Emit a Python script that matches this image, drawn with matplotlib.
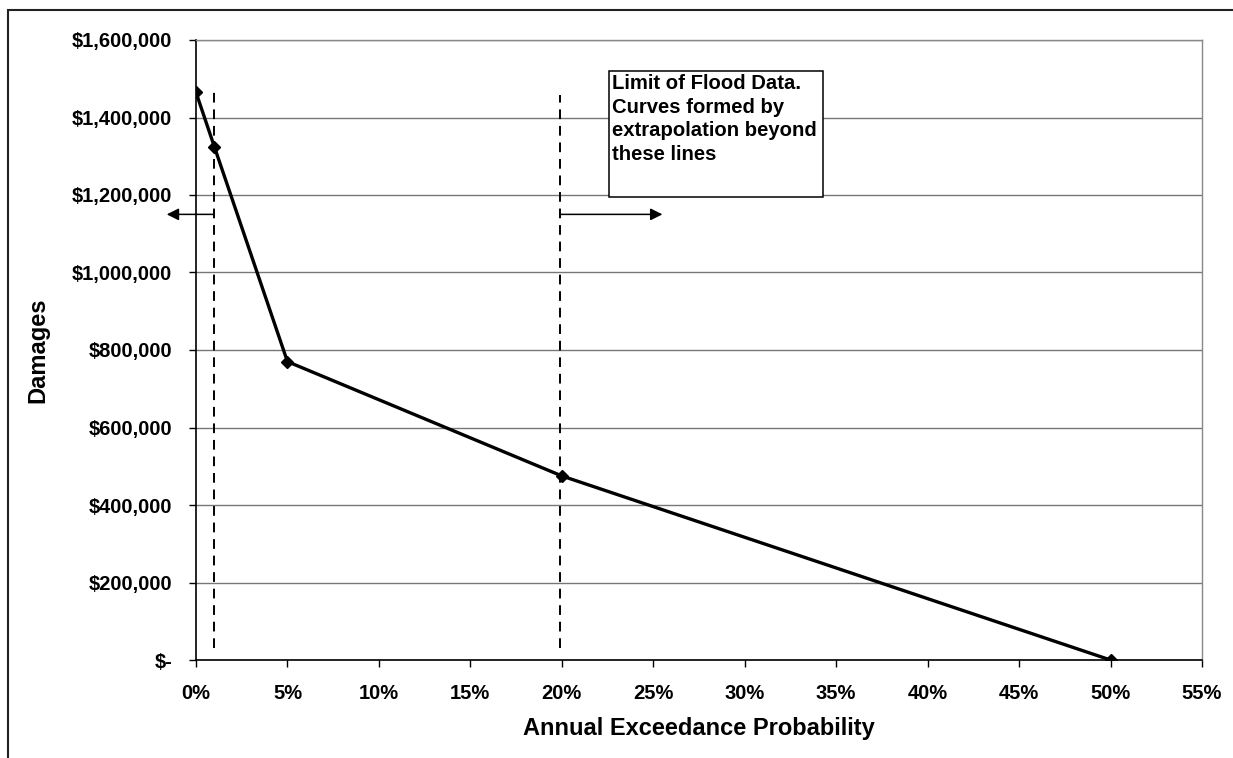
import matplotlib.pyplot as plt
import matplotlib.ticker as ticker
from matplotlib.patches import Rectangle

plt.rcParams['font.family'] = ['Liberation Sans', 'DejaVu Sans']
plt.rcParams['font.weight'] = 'bold'

# damage-probability curve
aep = [0.0, 1.0, 5.0, 20.0, 50.0]          # annual exceedance probability, %
damages = [1465000, 1325000, 770000, 475000, 0]

# limits of the flood data
limit_lines = [1.0, 19.9]
limit_top = [1480000, 1458000]
limit_bottom = 30000
arrow_y = 1150000
arrow_ends = [-1.6, 25.5]

note = "Limit of Flood Data.\nCurves formed by\nextrapolation beyond\nthese lines"

fig = plt.figure(figsize=(12.33, 7.58), dpi=100)
ax = fig.add_axes([196 / 1233, 1 - 660 / 758, 1006 / 1233, 620 / 758])

# outer chart border (top and left only)
fig.patches.append(Rectangle((8 / 1233, -0.05), 1.2, 1 - 10 / 758 + 0.05,
                             transform=fig.transFigure, fill=False,
                             edgecolor='#222222', linewidth=1.5))

ax.plot(aep, damages, color='black', linewidth=2.4, marker='D',
        markersize=6.5, zorder=5)

for x, top in zip(limit_lines, limit_top):
    ax.plot([x, x], [limit_bottom, top], color='black', linewidth=1.4,
            dashes=(5, 3.5), zorder=4)

for x0, x1 in zip(limit_lines, arrow_ends):
    ax.annotate('', xy=(x1, arrow_y), xytext=(x0, arrow_y),
                arrowprops=dict(arrowstyle='-|>', color='black', lw=1.1,
                                mutation_scale=18, shrinkA=0, shrinkB=0),
                annotation_clip=False, zorder=6)

# note box
ax.add_patch(Rectangle((22.6, 1195000), 11.7, 325000, facecolor='white',
                       edgecolor='black', linewidth=1.1, zorder=7))
ax.text(22.72, 1512000, note, fontsize=14.6, fontweight='bold', va='top',
        ha='left', linespacing=1.3, zorder=8)

ax.set_xlim(0, 55)
ax.set_ylim(0, 1600000)
ax.xaxis.set_major_locator(ticker.MultipleLocator(5))
ax.yaxis.set_major_locator(ticker.MultipleLocator(200000))
ax.xaxis.set_major_formatter(ticker.FuncFormatter(lambda v, p: '%d%%' % round(v)))
ax.yaxis.set_major_formatter(ticker.FuncFormatter(
    lambda v, p: '$-' if v == 0 else '${:,.0f}'.format(v)))

ax.yaxis.grid(True, color='#777777', linewidth=1.0)
ax.set_axisbelow(True)
for side in ['top', 'right']:
    ax.spines[side].set_color('#888888')
    ax.spines[side].set_linewidth(1.0)
for side in ['left', 'bottom']:
    ax.spines[side].set_color('black')
    ax.spines[side].set_linewidth(1.2)

ax.tick_params(axis='y', direction='out', length=5, width=1, pad=12, labelsize=14.5)
ax.tick_params(axis='x', direction='out', length=5, width=1, pad=12, labelsize=14.5)
for lab in ax.get_xticklabels() + ax.get_yticklabels():
    lab.set_fontweight('bold')

ax.set_xlabel('Annual Exceedance Probability', fontsize=17, fontweight='bold', labelpad=10)
ax.set_ylabel('Damages', fontsize=17, fontweight='bold', labelpad=16)

fig.savefig('out.png', dpi=100)
